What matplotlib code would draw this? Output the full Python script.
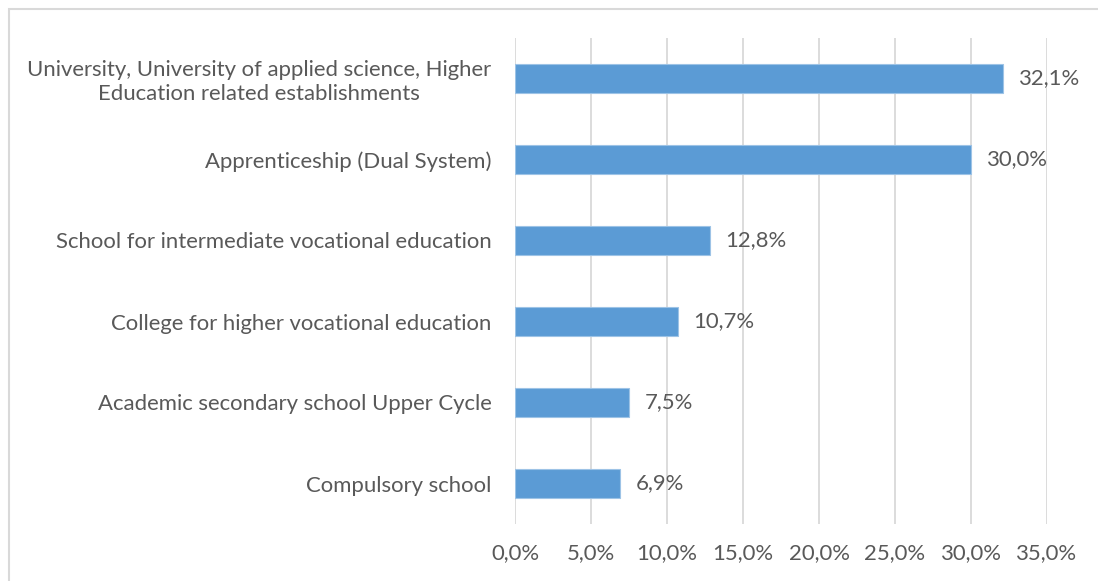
import matplotlib as mpl
import matplotlib.pyplot as plt
import numpy as np

# data, top to bottom as in the chart
categories = [
    "University, University of applied science, Higher\nEducation related establishments",
    "Apprenticeship (Dual System)",
    "School for intermediate vocational education",
    "College for higher vocational education",
    "Academic secondary school Upper Cycle",
    "Compulsory school",
]
shares = [32.1, 30.0, 12.8, 10.7, 7.5, 6.9]
xticks = [0, 5, 10, 15, 20, 25, 30, 35]

mpl.rcParams['font.family'] = ['Lato', 'DejaVu Sans']
text_col = '#595959'
fs = 15.9

fig = plt.figure(figsize=(10.98, 5.81), dpi=100)
W, H = 1098, 581
ax = fig.add_axes([515 / W, 1 - 524 / H, (1047 - 515) / W, (524 - 38) / H])

y = np.arange(len(categories))[::-1]
ax.barh(y, shares, height=0.36, color='#5B9BD5', edgecolor='#9DC3E6', linewidth=0.8, zorder=3)

for yi, v in zip(y, shares):
    ax.annotate(f"{v:.1f}%".replace('.', ','), (v, yi), xytext=(16, 0),
                textcoords='offset pixels', va='center', ha='left',
                fontsize=fs, color=text_col)

ax.set_xlim(0, 35)
ax.set_ylim(-0.5, len(categories) - 0.5)
ax.set_xticks(xticks)
ax.set_xticklabels([f"{t:.1f}%".replace('.', ',') for t in xticks])
ax.set_yticks(y)
ax.set_yticklabels(categories, multialignment='center')
ax.tick_params(axis='y', length=0, pad=17, labelsize=fs, labelcolor=text_col)
ax.tick_params(axis='x', length=0, pad=14, labelsize=fs, labelcolor=text_col)

ax.grid(axis='x', color='#D9D9D9', linewidth=1.3, zorder=0)
ax.grid(axis='y', visible=False)
for s in ax.spines.values():
    s.set_visible(False)

# chart border (only left/top fall inside the picture)
border = plt.Rectangle((9 / W, -0.1), 1.2, 1 - 9 / H + 0.1, transform=fig.transFigure,
                       fill=False, edgecolor='#D9D9D9', linewidth=1.5)
fig.add_artist(border)

plt.savefig("out.png", dpi=100)
